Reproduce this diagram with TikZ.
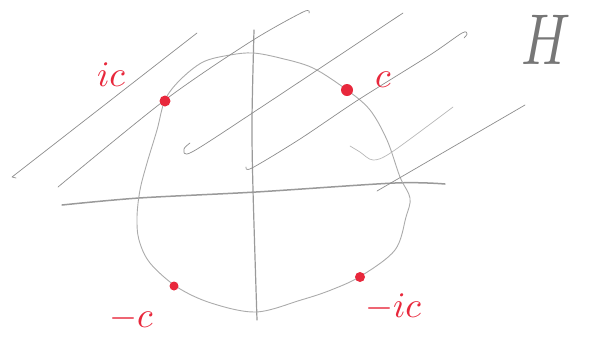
\documentclass[tikz,border=0pt]{standalone}
\usepackage{amsmath, amssymb}
\usepackage{xcolor}
\usepackage{tikz}
\usetikzlibrary{calc}
\definecolor{sk-pencil}{HTML}{8C8C8C}
\definecolor{sk-faint}{HTML}{B8B8B8}
\definecolor{sk-axis}{HTML}{9A9A9A}
\definecolor{sk-red}{HTML}{E8283C}

\begin{document}
\begin{tikzpicture}[x=1pt, y=-1pt, line cap=round, line join=round,
    pencil/.style={sk-pencil, line width=0.7pt},
    axisline/.style={sk-axis, line width=1.5pt},
    reddot/.style={fill=sk-red, draw=none, circle, inner sep=0pt},
    redlabel/.style={sk-red, scale=3.6}]
  \useasboundingbox (0,0) rectangle (589,349);
  % axes
  \draw[axisline] plot[smooth] coordinates {(62,205) (139,198) (256,192) (395,183) (445,184)};
  \draw[axisline, line width=1.2pt] plot[smooth] coordinates {(254,30) (252,120) (253,190) (257,320)};
  % the (rough) circle
  \draw[pencil, sk-faint!70!sk-pencil, line width=0.9pt] plot[smooth cycle, tension=0.55] coordinates {
    (253,53) (280,58) (313,68) (347,90) (370,110) (387,140) (400,177) (410,198)
    (406,217) (395,250) (361,276) (331,290) (301,300) (256,312) (211,303)
    (177,287) (150,263) (139,240) (137,217) (140,190) (147,163) (157,130)
    (165,100) (180,80) (203,62) (230,55)};
  % hatching of the region H
  \draw[pencil] (16,178) -- (12,177) -- (197,33);
  \draw[pencil] plot[smooth] coordinates {(58,187) (165,100) (250,42) (303,12) (309,13)};
  \draw[pencil] plot[smooth] coordinates {(190,143) (184,149) (192,152) (260,108) (403,13)};
  \draw[pencil] plot[smooth] coordinates {(246,167) (252,168) (300,139) (358,100) (430,55) (462,33) (467,34) (464,38)};
  \draw[pencil, sk-faint] plot[smooth] coordinates {(350,146) (360,152) (373,160) (392,152) (453,107)};
  \draw[pencil] (377,191) -- (525,105);
  % points
  \node[reddot, minimum size=12pt] (pc) at (347,90) {};
  \node[reddot, minimum size=11pt] (pic) at (165,101) {};
  \node[reddot, minimum size=9pt] (pmc) at (174,286) {};
  \node[reddot, minimum size=10pt] (pmic) at (360,277) {};
  \node[redlabel] (lc) at (383,80) {$c$};
  \node[redlabel] (lic) at (111,75) {$ic$};
  \node[redlabel] (lmc) at (131,318) {$-c$};
  \node[redlabel] (lmic) at (393,307) {$-ic$};
  % name of the region
  \node[sk-pencil!85!black, xscale=5.4, yscale=7.2] (hlab) at (546,40) {$H$};
\end{tikzpicture}
\end{document}
